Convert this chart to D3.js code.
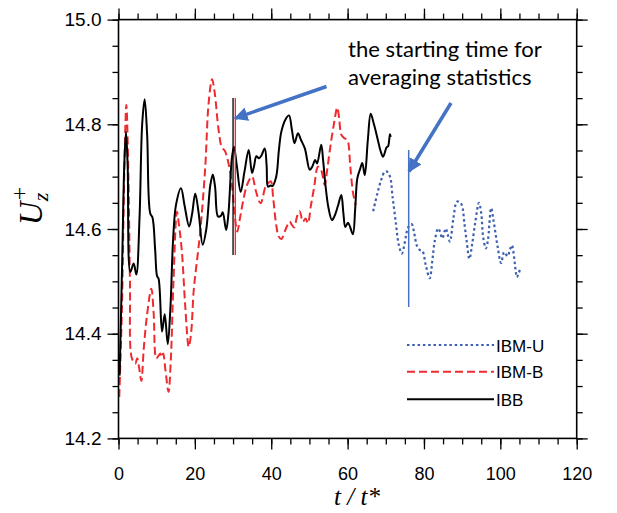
<!DOCTYPE html>
<html>
<head>
<meta charset="utf-8">
<script src="https://cdn.jsdelivr.net/npm/d3@7"></script>
<style>
  html, body { margin: 0; padding: 0; background: #fff; }
  svg { display: block; }
</style>
</head>
<body>
<svg id="chart" width="617" height="513"></svg>
<script>
// IBB (solid black)
const ibbT = [0.3, 1.0, 1.5, 1.96, 2.4, 3.1, 3.97, 4.67, 5.5, 6.2, 6.85, 7.5, 8.3, 8.9, 9.6, 10.1, 10.5, 11.4, 12.1, 12.9,
  13.6, 14.3, 15.06, 16.37, 17.3, 18.5, 19.3, 20.1, 21.0, 22.05, 23.0, 24.05, 24.7, 25.3, 26.06, 26.8, 27.3, 28.2, 28.8, 29.7,
  30.25, 31.0, 32.0, 33.0, 34.1, 34.97, 35.5, 36.1, 36.8, 37.4, 38.3, 38.8, 39.15, 39.8, 40.3, 41.3, 42.0, 42.65, 43.8, 44.66,
  45.4, 46.1, 47.0, 47.8, 48.8, 50.1, 50.8, 51.5, 52.0, 53.1, 53.6, 54.2, 55.0, 55.9, 56.6, 57.5, 58.35, 58.9, 59.4, 60.1,
  60.6, 61.4, 62.0, 62.55, 63.3, 63.85, 64.5, 65.3, 66.05, 66.9, 67.8, 68.6, 69.3, 70.2, 70.6, 71.1, 71.3];
const ibbU = [14.32, 14.55, 14.72, 14.786, 14.72, 14.518, 14.534, 14.513, 14.62, 14.80, 14.848, 14.78, 14.63, 14.622, 14.56, 14.51, 14.505, 14.404, 14.437, 14.38,
  14.45, 14.58, 14.646, 14.678, 14.645, 14.605, 14.63, 14.668, 14.63, 14.570, 14.60, 14.684, 14.704, 14.68, 14.624, 14.625, 14.632, 14.598, 14.63, 14.736,
  14.757, 14.72, 14.671, 14.71, 14.751, 14.707, 14.72, 14.739, 14.735, 14.74, 14.754, 14.72, 14.681, 14.683, 14.682, 14.70, 14.75, 14.786, 14.81, 14.817,
  14.79, 14.764, 14.783, 14.77, 14.754, 14.713, 14.72, 14.732, 14.725, 14.761, 14.73, 14.684, 14.64, 14.617, 14.625, 14.645, 14.665, 14.63, 14.604, 14.612,
  14.605, 14.590, 14.64, 14.697, 14.715, 14.726, 14.703, 14.77, 14.82, 14.80, 14.774, 14.75, 14.738, 14.756, 14.758, 14.781, 14.776];

// IBM-B (dashed red)
const ibmBT = [0.2, 0.9, 1.5, 2.05, 2.6, 3.0, 3.5, 4.4, 4.9, 5.4, 5.98, 6.6, 7.46, 8.6, 9.2, 9.9, 10.5, 10.95, 11.3, 11.7,
  12.3, 13.1, 13.7, 14.4, 15.3, 15.8, 16.6, 17.5, 18.4, 19.0, 19.7, 20.4, 21.4, 22.7, 23.6, 24.5, 25.2, 26.2, 27.1, 27.8,
  28.7, 29.7, 30.4, 31.1, 31.8, 32.6, 33.7, 34.97, 36.0, 37.2, 38.5, 39.2, 39.9, 40.5, 41.3, 42.0, 42.65, 43.7, 44.8, 45.4,
  46.0, 46.8, 47.45, 48.3, 49.0, 49.6, 50.4, 51.2, 52.25, 53.1, 54.0, 54.6, 55.3, 56.4, 57.3, 57.8, 58.35, 59.06, 59.7, 60.1,
  60.7, 61.4, 62.1];
const ibmBU = [14.279, 14.45, 14.70, 14.837, 14.70, 14.50, 14.353, 14.343, 14.353, 14.335, 14.31, 14.37, 14.435, 14.486, 14.44, 14.353, 14.358, 14.362, 14.355, 14.362,
  14.33, 14.289, 14.35, 14.50, 14.633, 14.61, 14.557, 14.45, 14.375, 14.40, 14.483, 14.53, 14.595, 14.716, 14.84, 14.886, 14.86, 14.79, 14.755, 14.75,
  14.729, 14.684, 14.63, 14.595, 14.62, 14.652, 14.685, 14.70, 14.672, 14.649, 14.681, 14.688, 14.691, 14.66, 14.608, 14.585, 14.581, 14.598, 14.614, 14.608,
  14.603, 14.625, 14.634, 14.614, 14.62, 14.611, 14.645, 14.678, 14.719, 14.712, 14.684, 14.71, 14.748, 14.80, 14.832, 14.81, 14.780, 14.774, 14.771, 14.767,
  14.72, 14.67, 14.646];

// IBM-U (dotted blue)
const ibmUT = [66.7, 67.8, 68.8, 69.6, 70.2, 71.1, 71.8, 72.6, 73.4, 74.2, 75.0, 75.5, 76.2, 76.8, 77.5, 78.1, 78.9, 79.6, 80.5, 81.5,
  82.2, 82.8, 83.7, 84.2, 84.8, 85.7, 86.2, 86.8, 87.7, 88.6, 89.2, 89.9, 90.6, 91.2, 91.9, 92.6, 93.4, 94.4, 95.0, 95.5,
  96.2, 96.7, 97.6, 98.2, 99.3, 100.2, 101.0, 101.9, 102.5, 103.0, 104.0, 104.3, 104.8, 105.2];
const ibmUU = [14.634, 14.668, 14.694, 14.708, 14.71, 14.70, 14.66, 14.614, 14.57, 14.553, 14.575, 14.595, 14.607, 14.609, 14.59, 14.569, 14.56, 14.558, 14.53, 14.506,
  14.54, 14.576, 14.601, 14.595, 14.582, 14.601, 14.59, 14.576, 14.62, 14.652, 14.652, 14.646, 14.61, 14.576, 14.543, 14.57, 14.611, 14.65, 14.63, 14.585,
  14.563, 14.576, 14.640, 14.617, 14.566, 14.535, 14.556, 14.548, 14.56, 14.569, 14.522, 14.508, 14.515, 14.525];

// Axis ticks
const xTicks = [0, 20, 40, 60, 80, 100, 120];
const yTicks = [14.2, 14.4, 14.6, 14.8, 15.0];
const xMinor = d3.range(0, 120.01, 5);
const yMinor = d3.range(14.2, 15.001, 0.05);

// Averaging start markers (t / t*)
const startIBB = 30.0;
const startIBMB = 30.6;
const startIBMU = 76.0;

const seriesNames = ["IBM-U", "IBM-B", "IBB"];
const noteLines = ["the starting time for", "averaging statistics"];

const svg = d3.select("#chart");
const L = 118.5, R = 576.7, T = 19.6, B = 438.4;

const x = d3.scaleLinear().domain([0, 120]).range([L, R]);
const y = d3.scaleLinear().domain([14.2, 15.0]).range([B, T]);

const BLUE = "#3d5fb0", RED = "#ee2b2f", ARROW = "#4472c4";

const defs = svg.append("defs");
defs.append("clipPath").attr("id", "plotClip")
  .append("rect").attr("x", L).attr("y", T).attr("width", R - L).attr("height", B - T);

// curves
const line = d3.line().x(d => x(d[0])).y(d => y(d[1])).curve(d3.curveCatmullRom.alpha(0.5));
const zip = (a, b) => a.map((v, i) => [v, b[i]]);

const g = svg.append("g").attr("clip-path", "url(#plotClip)");

g.append("path").datum(zip(ibmBT, ibmBU)).attr("d", line)
  .attr("fill", "none").attr("stroke", RED).attr("stroke-width", 2).attr("stroke-dasharray", "8,4");
g.append("path").datum(zip(ibbT, ibbU)).attr("d", line)
  .attr("fill", "none").attr("stroke", "#000").attr("stroke-width", 2);
g.append("path").datum(zip(ibmUT, ibmUU)).attr("d", line)
  .attr("fill", "none").attr("stroke", BLUE).attr("stroke-width", 2.2).attr("stroke-dasharray", "2.5,2.8");

// start-of-averaging markers
svg.append("line").attr("x1", x(startIBB)).attr("x2", x(startIBB)).attr("y1", 98).attr("y2", 255)
  .attr("stroke", "#000").attr("stroke-width", 1.3);
svg.append("line").attr("x1", x(startIBMB)).attr("x2", x(startIBMB)).attr("y1", 98).attr("y2", 255)
  .attr("stroke", RED).attr("stroke-width", 1.3);
svg.append("line").attr("x1", x(startIBMU)).attr("x2", x(startIBMU)).attr("y1", 150).attr("y2", 307)
  .attr("stroke", ARROW).attr("stroke-width", 1.5);

// frame
svg.append("rect").attr("x", L).attr("y", T).attr("width", R - L).attr("height", B - T)
  .attr("fill", "none").attr("stroke", "#000").attr("stroke-width", 1.6);

function styleAxis(sel) {
  sel.select(".domain").remove();
  sel.selectAll("line").attr("stroke", "#000").attr("stroke-width", 1.3);
}

// bottom
svg.append("g").attr("transform", `translate(0,${B})`)
  .call(d3.axisBottom(x).tickValues(xMinor).tickSize(6).tickFormat("")).call(styleAxis);
const xb = svg.append("g").attr("transform", `translate(0,${B})`)
  .call(d3.axisBottom(x).tickValues(xTicks).tickSize(11).tickPadding(18).tickFormat(d3.format("d"))).call(styleAxis);
xb.selectAll("text").attr("font-family", "Liberation Sans, Arial, sans-serif").attr("font-size", 18).attr("fill", "#000");
// top
svg.append("g").attr("transform", `translate(0,${T})`)
  .call(d3.axisTop(x).tickValues(xMinor).tickSize(6).tickFormat("")).call(styleAxis);
svg.append("g").attr("transform", `translate(0,${T})`)
  .call(d3.axisTop(x).tickValues(xTicks).tickSize(11).tickFormat("")).call(styleAxis);
// left
svg.append("g").attr("transform", `translate(${L},0)`)
  .call(d3.axisLeft(y).tickValues(yMinor).tickSize(6).tickFormat("")).call(styleAxis);
const yl = svg.append("g").attr("transform", `translate(${L},0)`)
  .call(d3.axisLeft(y).tickValues(yTicks).tickSize(11).tickPadding(6).tickFormat(d3.format(".1f"))).call(styleAxis);
yl.selectAll("text").attr("font-family", "Liberation Sans, Arial, sans-serif").attr("font-size", 19).attr("fill", "#000");
// right
svg.append("g").attr("transform", `translate(${R},0)`)
  .call(d3.axisRight(y).tickValues(yMinor).tickSize(6).tickFormat("")).call(styleAxis);
svg.append("g").attr("transform", `translate(${R},0)`)
  .call(d3.axisRight(y).tickValues(yTicks).tickSize(11).tickFormat("")).call(styleAxis);

// axis titles
const xt = svg.append("text").attr("x", 357).attr("y", 505).attr("text-anchor", "middle")
  .attr("font-family", "Liberation Serif, Times New Roman, serif").attr("font-style", "italic").attr("font-size", 25);
xt.append("tspan").text("t / t*");

// y title: U with subscript z and superscript +, rotated; placed by its bounding box
const ytWrap = svg.append("g");
const yt = ytWrap.append("text").attr("transform", "rotate(-90)")
  .attr("font-family", "Liberation Serif, Times New Roman, serif").attr("font-style", "italic").attr("font-size", 33);
yt.append("tspan").text("U");
const uW = yt.node().getComputedTextLength();
yt.append("tspan").attr("font-size", 22).attr("dy", 6).text("z");
yt.append("tspan").attr("font-size", 24).attr("font-style", "normal")
  .attr("x", uW + 1).attr("dy", -21).text("+");
{
  const bb = ytWrap.node().getBBox();
  const cx = bb.x + bb.width / 2, cy = bb.y + bb.height / 2;
  ytWrap.attr("transform", `translate(${29 - cx},${206 - cy})`);
}

// legend
const legendStyles = [
  { stroke: BLUE, dash: "2.5,2.8", w: 2.2 },
  { stroke: RED, dash: "8,4", w: 2 },
  { stroke: "#000", dash: null, w: 2 }
];
const legY = [345, 371.7, 399.3];
seriesNames.forEach((name, i) => {
  const s = legendStyles[i];
  svg.append("line").attr("x1", 407).attr("x2", 494).attr("y1", legY[i]).attr("y2", legY[i])
    .attr("stroke", s.stroke).attr("stroke-width", s.w).attr("stroke-dasharray", s.dash);
  svg.append("text").attr("x", 496).attr("y", legY[i] + 6.5)
    .attr("font-family", "Liberation Sans, Arial, sans-serif").attr("font-size", 17).text(name);
});

// annotation text, sized so the first line spans its intended width
const ann = svg.append("g").attr("font-family", "Lato, Open Sans, sans-serif").attr("font-size", 20).attr("fill", "#000");
const a1 = ann.append("text").attr("x", 348).attr("y", 57).text(noteLines[0]);
const natural = a1.node().getComputedTextLength();
ann.attr("font-size", 20 * 194 / natural);
ann.append("text").attr("x", 348).attr("y", 85).text(noteLines[1]);

defs.append("marker").attr("id", "head").attr("viewBox", "0 0 10 10")
  .attr("refX", 9).attr("refY", 5).attr("markerWidth", 4).attr("markerHeight", 4)
  .attr("markerUnits", "strokeWidth").attr("orient", "auto")
  .append("path").attr("d", "M0,0 L10,5 L0,10 z").attr("fill", ARROW);

svg.append("line").attr("x1", 326.5).attr("y1", 86.5).attr("x2", 235).attr("y2", 118.3)
  .attr("stroke", ARROW).attr("stroke-width", 3.5).attr("marker-end", "url(#head)");
svg.append("line").attr("x1", 451).attr("y1", 103).attr("x2", 409).attr("y2", 171.5)
  .attr("stroke", ARROW).attr("stroke-width", 3.5).attr("marker-end", "url(#head)");
</script>
</body>
</html>
